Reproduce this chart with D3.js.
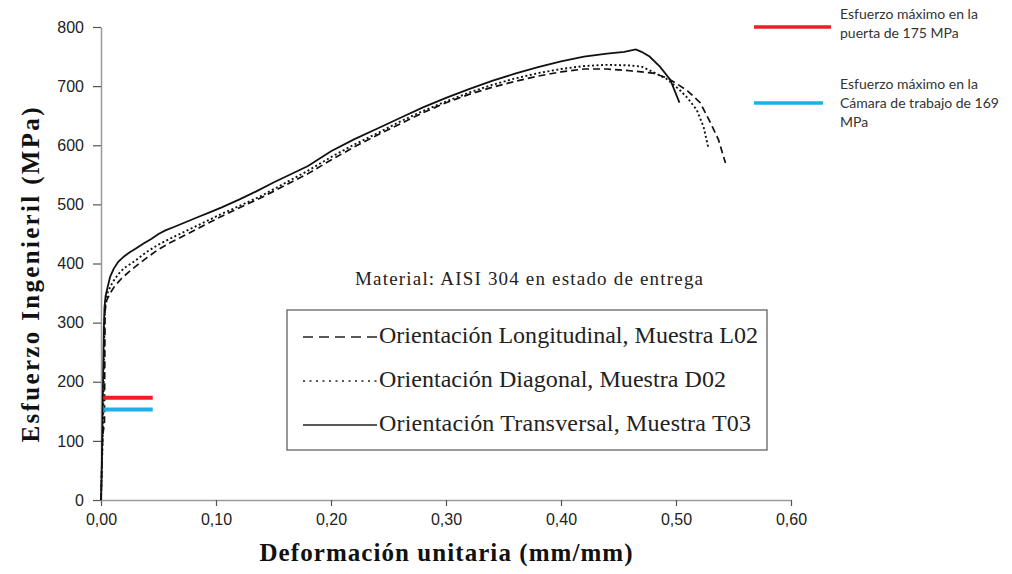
<!DOCTYPE html>
<html><head><meta charset="utf-8">
<script src="https://cdn.jsdelivr.net/npm/d3@7"></script>
<style>body{margin:0;background:#fff}svg{display:block}</style>
</head><body>
<svg id="c" width="1012" height="574"></svg>
<script>
// ---- data ----
const xTicks = [0, 0.1, 0.2, 0.3, 0.4, 0.5, 0.6];
const yTicks = [0, 100, 200, 300, 400, 500, 600, 700, 800];

const strainT03 = [0,0.0005,0.001,0.0015,0.002,0.0025,0.003,0.004,0.006,0.008,0.011,0.015,0.02,0.025,0.03,0.037,0.044,0.05,0.056,0.065,0.075,0.085,0.095,0.105,0.12,0.135,0.15,0.165,0.18,0.2,0.22,0.24,0.26,0.28,0.3,0.32,0.34,0.36,0.38,0.4,0.42,0.44,0.455,0.465,0.47,0.477,0.486,0.495,0.503];
const stressT03 = [0,40,90,160,230,290,325,345,362,378,391,403,412,419,425,434,442,450,456,463,471,479,487,495,508,522,537,551,565,590,610,628,646,664,680,695,709,721,732,742,750,755,758,762,758,750,733,711,672];

const strainL02 = [0,0.0008,0.0015,0.003,0.0032,0.0035,0.005,0.008,0.012,0.018,0.025,0.032,0.04,0.05,0.06,0.075,0.09,0.105,0.12,0.14,0.16,0.18,0.2,0.22,0.24,0.26,0.28,0.3,0.32,0.34,0.36,0.38,0.4,0.42,0.44,0.46,0.48,0.492,0.5,0.51,0.521,0.53,0.537,0.543];
const stressL02 = [0,60,110,130,200,320,338,350,362,375,387,398,410,424,435,450,465,480,494,512,532,552,575,597,617,636,655,672,686,698,708,717,724,729,729,726,722,714,705,692,672,638,609,570];

const strainD02 = [0,0.002,0.003,0.004,0.006,0.01,0.015,0.02,0.03,0.04,0.05,0.06,0.075,0.09,0.105,0.12,0.14,0.16,0.18,0.2,0.22,0.24,0.26,0.28,0.3,0.32,0.34,0.36,0.38,0.4,0.42,0.44,0.46,0.47,0.48,0.492,0.503,0.51,0.518,0.524,0.528];
const stressD02 = [0,150,300,335,352,368,382,392,405,420,432,442,456,470,484,497,515,536,557,580,601,620,640,658,674,689,702,713,722,729,734,736,735,733,724,712,694,680,660,631,597];

const refStress = [173, 153];
const refStrainEnd = [0.045, 0.045];
const refColors = ["#ee1c25", "#1eaee8"];
const refTexts = [["Esfuerzo máximo en la", "puerta de 175 MPa"], ["Esfuerzo máximo en la", "Cámara de trabajo de 169", "MPa"]];

const legendLabels = ["Orientación Longitudinal, Muestra L02", "Orientación Diagonal, Muestra D02", "Orientación Transversal, Muestra T03"];

// ---- drawing ----
const svg = d3.select("#c");
const x = d3.scaleLinear().domain([0, 0.6]).range([101, 791]);
const y = d3.scaleLinear().domain([0, 800]).range([500, 27]);
const fmt = d => d3.format(".2f")(d).replace(".", ",");

const xAxis = svg.append("g").attr("transform", "translate(0,500)")
  .call(d3.axisBottom(x).tickValues(xTicks).tickFormat(fmt).tickSize(6).tickPadding(8).tickSizeOuter(0));
const yAxis = svg.append("g").attr("transform", "translate(101,0)")
  .call(d3.axisLeft(y).tickValues(yTicks).tickFormat(d3.format("d")).tickSize(8).tickPadding(9).tickSizeOuter(0));
[xAxis, yAxis].forEach(a => {
  a.select(".domain").attr("stroke", "#9a9a9a").attr("stroke-width", 1.5);
  a.selectAll(".tick line").attr("stroke", "#555").attr("stroke-width", 1.2);
  a.selectAll(".tick text").attr("font-family", "Liberation Sans, Arial, sans-serif").attr("font-size", 16).attr("fill", "#222");
});

const line = d3.line().x(d => x(d[0])).y(d => y(d[1]));
const series = [
  {s: strainL02, v: stressL02, dash: "7,4", w: 1.7},
  {s: strainD02, v: stressD02, dash: "2,2.5", w: 1.9},
  {s: strainT03, v: stressT03, dash: null, w: 1.8}
];
series.forEach(se => {
  svg.append("path").datum(se.s.map((d, i) => [d, se.v[i]]))
    .attr("d", line).attr("fill", "none").attr("stroke", "#111")
    .attr("stroke-width", se.w).attr("stroke-dasharray", se.dash);
});

// reference stress lines in plot
refStress.forEach((v, i) => {
  svg.append("line").attr("x1", x(0.002)).attr("x2", x(refStrainEnd[i]))
    .attr("y1", y(v)).attr("y2", y(v)).attr("stroke", refColors[i]).attr("stroke-width", 4);
});

// annotation at top-right
const annY = [27, 103];
const annX2 = [831, 823];
refTexts.forEach((lines, i) => {
  svg.append("line").attr("x1", 754).attr("x2", annX2[i]).attr("y1", annY[i]).attr("y2", annY[i])
    .attr("stroke", refColors[i]).attr("stroke-width", 3.5);
  const top = i === 0 ? 15 : 85;
  lines.forEach((t, j) => {
    svg.append("text").attr("x", 840).attr("y", top + j * 19).attr("dominant-baseline", "middle")
      .attr("font-family", "Lato, sans-serif").attr("font-size", 14).attr("fill", "#333").text(t);
  });
});

// material note
svg.append("text").attr("x", 355).attr("y", 285).attr("font-family", "Liberation Serif, serif")
  .attr("font-size", 19).attr("fill", "#222").attr("textLength", 348).attr("lengthAdjust", "spacing")
  .text("Material: AISI 304 en estado de entrega");

// legend box
svg.append("rect").attr("x", 287).attr("y", 310).attr("width", 480).attr("height", 140)
  .attr("fill", "#fff").attr("stroke", "#555").attr("stroke-width", 1.2);
const legDash = ["10,6", "2,4.5", null];
const legY = [337, 381, 425];
const legLen = [379, 347, 372];
legendLabels.forEach((t, i) => {
  svg.append("line").attr("x1", 303).attr("x2", 377).attr("y1", legY[i]).attr("y2", legY[i])
    .attr("stroke", "#222").attr("stroke-width", 1.4).attr("stroke-dasharray", legDash[i]);
  svg.append("text").attr("x", 379).attr("y", legY[i]).attr("dominant-baseline", "middle")
    .attr("font-family", "Liberation Serif, serif").attr("font-size", 24).attr("fill", "#222")
    .attr("textLength", legLen[i]).attr("lengthAdjust", "spacing")
    .text(t);
});

// axis titles
svg.append("text").attr("x", 446).attr("y", 561).attr("text-anchor", "middle")
  .attr("font-family", "Liberation Serif, serif").attr("font-weight", "bold").attr("font-size", 25)
  .attr("fill", "#111").attr("textLength", 373).attr("lengthAdjust", "spacing")
  .text("Deformación unitaria (mm/mm)");
svg.append("text").attr("transform", "translate(39,275) rotate(-90)").attr("text-anchor", "middle")
  .attr("font-family", "Liberation Serif, serif").attr("font-weight", "bold").attr("font-size", 25)
  .attr("fill", "#111").attr("textLength", 335).attr("lengthAdjust", "spacing")
  .text("Esfuerzo Ingenieril  (MPa)");
</script>
</body></html>
